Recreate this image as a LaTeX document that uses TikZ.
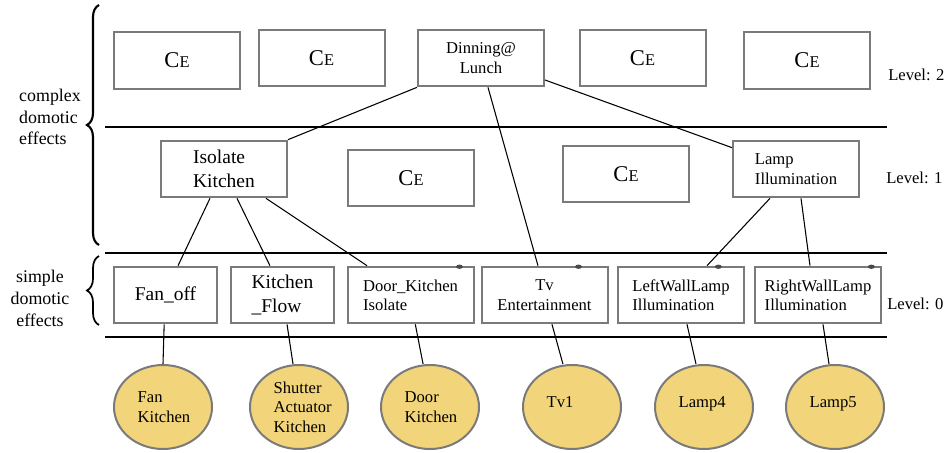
\documentclass[tikz,border=0pt]{standalone}
\usepackage{fontspec}
\setmainfont{Liberation Serif}
\usetikzlibrary{shapes.geometric,decorations.pathreplacing}
\definecolor{devfill}{RGB}{242,213,122}
\definecolor{boxgray}{RGB}{122,122,122}
\newcommand{\CE}{{\fontsize{16.9}{18}\selectfont C}{\fontsize{12.3}{14}\selectfont E}}

\begin{document}
\begin{tikzpicture}[x=0.75pt,y=-0.75pt,
  every node/.style={font=\fontsize{12.45}{14.5}\selectfont},
  effect/.style={draw=boxgray,line width=1.5pt,minimum width=94.5pt,minimum height=42.5pt,inner sep=2pt},
  simple/.style={effect,minimum width=77.25pt},
  big/.style={font=\fontsize{14.6}{17.5}\selectfont},
  device/.style={ellipse,draw=boxgray,line width=1.5pt,fill=devfill,minimum width=73.5pt,minimum height=63pt,text width=38pt,align=left,inner sep=0pt},
  level/.style={anchor=west,inner sep=0pt},
  link/.style={line width=0.8pt},
  sep/.style={line width=1.2pt}]
\useasboundingbox (0,0) rectangle (946,453);

% level 2
\foreach \x/\y [count=\i] in {177/60.5,321.5/58,642.5/58,807/60.5}
  \node[effect] (ceA-\i) at (\x,\y) {\CE};
\node[effect,align=center] (dinner) at (481,58) {Dinning@\\Lunch};

% level 1
\node[effect,big,align=left] (isolate) at (224,169) {Isolate\\Kitchen};
\foreach \x/\y [count=\i] in {411/178,626/174}
  \node[effect] (ceB-\i) at (\x,\y) {\CE};
\node[effect,align=left] (lamp) at (796,169) {Lamp\\Illumination};

% level 0
\node[simple,big] (fan) at (165.5,295) {Fan\_off};
\node[simple,big,align=left] (flow) at (282.5,295) {Kitchen\\\_Flow};
\node[effect,align=left] (door) at (410.5,295) {Door\_Kitchen\\Isolate};
\node[effect,align=center] (tv) at (544.5,295) {Tv\\Entertainment};
\node[effect,align=left] (left) at (681,295) {LeftWallLamp\\Illumination};
\node[effect,align=left] (right) at (818,295) {RightWallLamp\\Illumination};
\foreach \b/\s in {door/11.25,tv/22.5,left/20,right/8}
  \fill[boxgray!60!black] ([xshift=-\s pt,yshift=-0.8pt]\b.north east) ellipse (2.6pt and 1.6pt);

% devices
\node[device] (fanD) at (163,407) {Fan\\Kitchen};
\node[device] (shutterD) at (299,407) {Shutter\\Actuator\\Kitchen};
\node[device] (doorD) at (430,407) {Door\\Kitchen};
\node[device] (tvD) at (572,407) {\raisebox{8pt}{Tv1}};
\node[device] (lamp4D) at (704,407) {\raisebox{8pt}{Lamp4}};
\node[device] (lamp5D) at (835,407) {\raisebox{8pt}{Lamp5}};

% level separators
\foreach \y in {127,253,337}
  \draw[sep] (105,\y) -- (887,\y);
\node[level] (lvl2) at (888,75) {Level: 2};
\node[level] (lvl1) at (886,178) {Level: 1};
\node[level] (lvl0) at (887,304) {Level: 0};

% braces
\draw[decorate,decoration={brace,amplitude=9pt},line width=1.6pt] (99,245) -- (99,5);
\draw[decorate,decoration={brace,amplitude=9pt},line width=1.3pt] (99,325) -- (99,256);
\node[align=left,font=\fontsize{13.4}{16.3}\selectfont] (complex) at (50,117) {complex\\domotic\\effects};
\node[align=center,font=\fontsize{13.4}{16.5}\selectfont] (simple) at (40,298) {simple\\domotic\\effects};

% composition links
\draw[link] (dinner.south west) -- (isolate.north east);
\draw[link] ([xshift=5.25pt]dinner.south) -- ([xshift=-4.9pt]tv.north);
\draw[link] ([yshift=-16.5pt]dinner.east) -- ([yshift=-6pt]lamp.north west);
\draw[link] ([xshift=-10.5pt]isolate.south) -- ([xshift=9.4pt]fan.north);
\draw[link] ([xshift=9.75pt]isolate.south) -- ([xshift=-9.4pt]flow.north);
\draw[link] ([xshift=31.5pt]isolate.south) -- ([xshift=-32.6pt]door.north);
\draw[link] ([xshift=-19.5pt]lamp.south) -- ([xshift=19.5pt]left.north);
\draw[link] ([xshift=3.75pt]lamp.south) -- ([xshift=-6pt]right.north);
% device links
\draw[link] ([xshift=-1pt]fan.south) -- (fanD.north);
\draw[link] ([xshift=3.4pt]flow.south) -- ([xshift=-4.5pt]shutterD.north);
\draw[link] ([xshift=3.6pt]door.south) -- ([xshift=-5.2pt]doorD.north);
\draw[link] ([xshift=5.6pt]tv.south) -- ([xshift=-6.8pt]tvD.north);
\draw[link] ([xshift=4.5pt]left.south) -- ([xshift=-6pt]lamp4D.north);
\draw[link] ([xshift=3.75pt]right.south) -- ([xshift=-4.5pt]lamp5D.north);
\end{tikzpicture}
\end{document}
